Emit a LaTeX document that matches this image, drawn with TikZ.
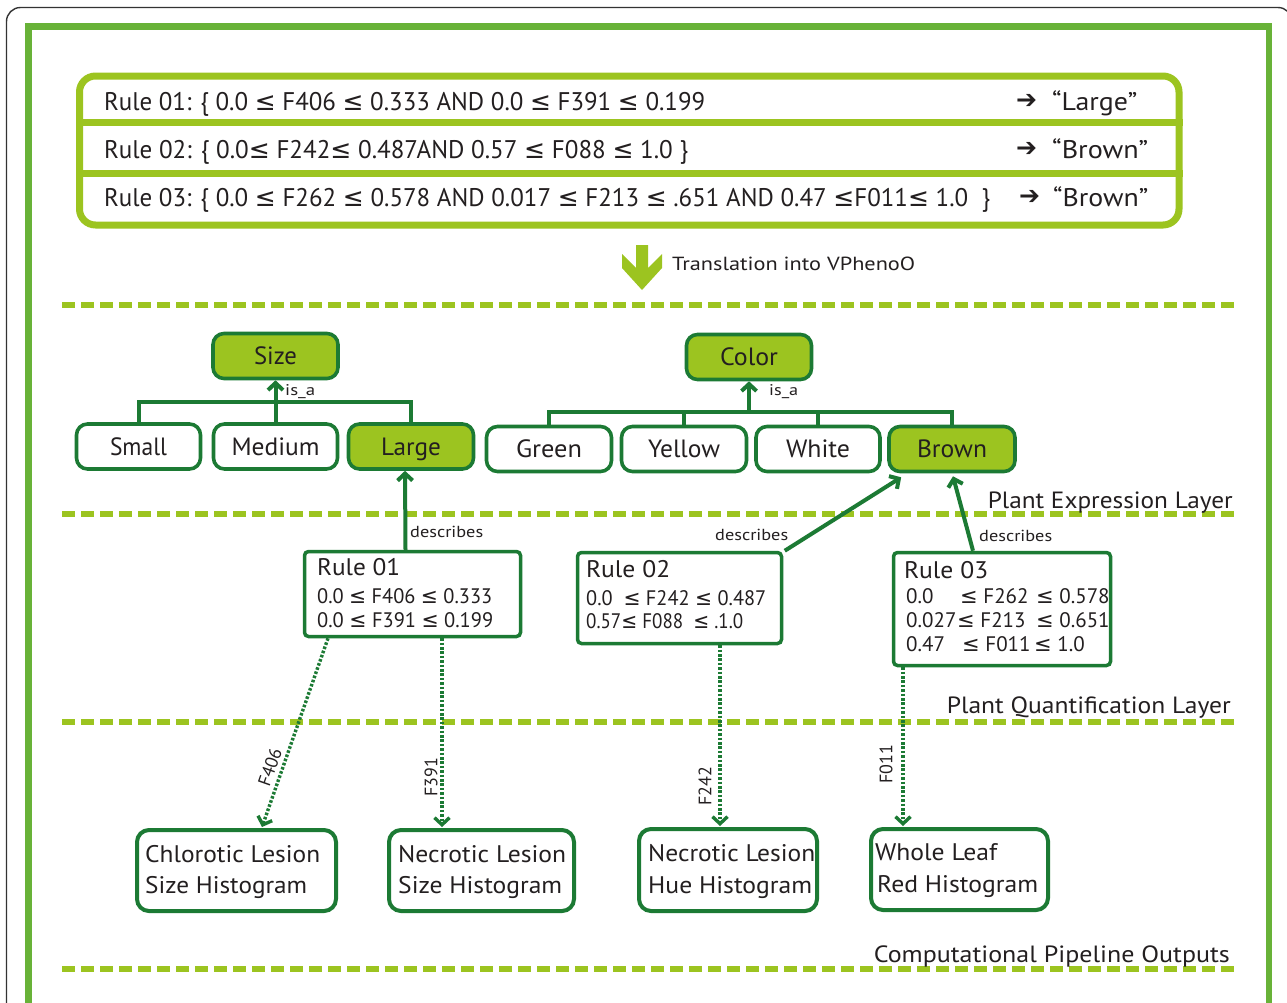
\documentclass[tikz,border=0pt]{standalone}
\usepackage{graphicx}
\usepackage{fontspec}
\setmainfont{PT Sans}
\newfontfamily\symf{DejaVu Sans}
\usetikzlibrary{arrows.meta}
\definecolor{frameg}{RGB}{104,178,56}
\definecolor{yg}{RGB}{156,196,32}
\definecolor{dg}{RGB}{28,122,52}
\definecolor{txt}{RGB}{35,31,32}
\newcommand{\tw}[2]{\resizebox{#1pt}{\height}{#2}}
\newcommand{\LE}{{\symf ≤}}
\newcommand{\fs}[1]{\fontsize{#1}{#1}\selectfont}
\tikzset{
 lay/.style={yg, line width=6.5pt, dash pattern=on 12.5pt off 6.5pt},
 cbox/.style={draw=dg, line width=3.6pt, rounded corners=11pt, inner sep=0pt, minimum height=45pt, text height=17.5pt, text depth=0pt, text=txt, font=\fs{25}},
 hbox/.style={cbox, fill=yg},
 wbox/.style={cbox, fill=white},
 tree/.style={dg, line width=4pt},
 tipa/.style={-{Straight Barb[length=7pt,width=15pt]}},
 desc/.style={dg, line width=4pt, -{Straight Barb[length=7pt,width=15pt]}},
 rbox/.style={draw=dg, line width=3.5pt, rounded corners=4pt, fill=white, inner sep=0pt},
 obox/.style={draw=dg, line width=4pt, rounded corners=12pt, fill=white, inner sep=0pt},
 dots/.style={dg, line width=3.4pt, dash pattern=on 2.6pt off 1.8pt, -{Straight Barb[length=7pt,width=15pt]}},
 tx/.style={anchor=base west, inner sep=0pt, text=txt},
 rowt/.style={tx, font=\fs{25.5}},
 small/.style={tx, font=\fs{15.5}},
 hdr/.style={tx, font=\fs{24}},
 ineq/.style={tx, font=\fs{21}},
 outt/.style={tx, font=\fs{24}},
 layt/.style={anchor=base east, inner sep=0pt, text=txt, font=\fs{23.5}},
 flab/.style={inner sep=0pt, text=txt, font=\fs{18}},
}
\begin{document}
\begin{tikzpicture}[x=1pt,y=-1pt]
\useasboundingbox (0,0) rectangle (1287,1002);
\clip (0,0) rectangle (1287,1002);
\fill[white] (0,0) rectangle (1287,1002);
% frames
\draw[line width=1.4pt, black!80, rounded corners=14pt] (6.5,1100) -- (6.5,7.5) -- (1292,7.5) -- (1292,1100);
\draw[frameg, line width=6.5pt] (28.5,1100) -- (28.5,26.5) -- (1269,26.5) -- (1269,1100);

% rules box
\node[draw=yg, line width=7pt, rounded corners=16pt, minimum width=1099.5pt, minimum height=149pt, inner sep=0pt] (rules) at (629.25,150.5) {};
\coordinate (s1) at (0,122);
\coordinate (s2) at (0,173);
\draw[yg, line width=7pt] (rules.west |- s1) -- (rules.east |- s1);
\draw[yg, line width=7pt] (rules.west |- s2) -- (rules.east |- s2);
\node[rowt] (t1) at (104,110) {\tw{601}{Rule 01: \{ 0.0 \LE\ F406 \LE\ 0.333 AND 0.0 \LE\ F391 \LE\ 0.199}};
\node[rowt] (t2) at (104,158) {\tw{584}{Rule 02: \{ 0.0\LE\ F242\LE\ 0.487AND 0.57 \LE\ F088 \LE\ 1.0 \}}};
\node[rowt] (t3) at (104,206) {\tw{886}{Rule 03: \{ 0.0 \LE\ F262 \LE\ 0.578 AND 0.017 \LE\ F213 \LE\ .651 AND 0.47 \LE F011\LE\ 1.0\ \ \}}};
\node[rowt] (a1) at (1016,108) {\tw{21}{\symf ➔}};
\node[rowt] (a2) at (1016,156) {\tw{21}{\symf ➔}};
\node[rowt] (a3) at (1019,204) {\tw{21}{\symf ➔}};
\node[rowt] (v1) at (1052,110) {\tw{85}{“Large”}};
\node[rowt] (v2) at (1052,158) {\tw{96}{“Brown”}};
\node[rowt] (v3) at (1053,206) {\tw{95}{“Brown”}};

% translation arrow
\fill[yg] (622,254) -- (622,268) -- (642,290) -- (662,268) -- (662,254) -- (648,268) -- (648,245) -- (636,245) -- (636,268) -- cycle;
\node[tx, font=\fs{19}] (trans) at (672,270) {\tw{243}{Translation into VPhenoO}};

% layer lines
\draw[lay] (62,305) -- (1235,305);
\draw[lay] (62,514) -- (1235,514);
\draw[lay] (62,722) -- (1235,722);
\draw[lay] (62,969) -- (1235,969);
\node[layt] (l1) at (1233,508) {\tw{245}{Plant Expression Layer}};
\node[layt] (l2) at (1231,713) {\tw{284}{Plant Quantification Layer}};
\node[layt] (l3) at (1230,962) {\tw{356}{Computational Pipeline Outputs}};

% size tree
\node[hbox, minimum width=125pt] (sz) at (275.5,356) {\tw{43}{Size}};
\node[wbox, minimum width=124pt] (sm) at (138.5,446.5) {\tw{57}{Small}};
\node[wbox, minimum width=124pt] (md) at (275.5,446.5) {\tw{88}{Medium}};
\node[hbox, minimum width=125pt] (lg) at (411,446.5) {\tw{60}{Large}};
\coordinate (sb) at (275.5,402);
\draw[tree] (sm.north) |- (sb) -| (lg.north);
\draw[tree, tipa] (md.north) -- (sz.south);
\node[small] (isa1) at (285,395) {\tw{30}{is\_a}};

% color tree
\node[hbox, minimum width=125pt] (co) at (749,357) {\tw{58}{Color}};
\node[wbox, minimum width=125pt] (gr) at (549,449) {\tw{66}{Green}};
\node[wbox, minimum width=125pt] (ye) at (684,449) {\tw{72}{Yellow}};
\node[wbox, minimum width=124pt] (wh) at (818,449) {\tw{64}{White}};
\node[hbox, minimum width=126pt] (br) at (952,449) {\tw{70}{Brown}};
\coordinate (cb) at (749,412);
\draw[tree] (gr.north) |- (cb) -| (br.north);
\draw[tree] (ye.north) -- (ye.north |- cb);
\draw[tree] (wh.north) -- (wh.north |- cb);
\draw[tree, tipa] (cb) -- (co.south);
\node[small] (isa2) at (769,395) {\tw{29}{is\_a}};

% rule boxes
\node[rbox, minimum width=216pt, minimum height=85pt] (q1) at (412.5,594) {};
\node[rbox, minimum width=204pt, minimum height=91pt] (q2) at (679.5,598) {};
\node[rbox, minimum width=217pt, minimum height=113pt] (q3) at (1002,609) {};
\node[hdr] (q1h) at (317,575) {\tw{83}{Rule 01}};
\node[ineq] (q1a) at (317,603) {\tw{175}{0.0 \LE\ F406 \LE\ 0.333}};
\node[ineq] (q1b) at (317,627) {\tw{176}{0.0 \LE\ F391 \LE\ 0.199}};
\node[hdr] (q2h) at (586,577) {\tw{84}{Rule 02}};
\node[ineq] (q2a) at (586,605) {\tw{180}{0.0\ \ \LE\ F242 \LE\ 0.487}};
\node[ineq] (q2b) at (586,628) {\tw{157}{0.57\LE\ F088\ \ \LE\ .1.0}};
\node[hdr] (q3h) at (904,578) {\tw{84}{Rule 03}};
\node[ineq] (q3a1) at (906,603) {0.0};
\node[ineq] (q3a2) at (960,603) {\LE\ F262};
\node[ineq] (q3a3) at (1036,603) {\LE\ 0.578};
\node[ineq] (q3b1) at (906,627) {0.027};
\node[ineq] (q3b2) at (957,627) {\LE\ F213};
\node[ineq] (q3b3) at (1036,627) {\LE\ 0.651};
\node[ineq] (q3c1) at (906,651) {0.47};
\node[ineq] (q3c2) at (962,651) {\LE\ F011};
\node[ineq] (q3c3) at (1034,651) {\LE\ 1.0};

% describes
\draw[desc] ([xshift=-7pt]q1.north) -- ([xshift=-6pt]lg.south);
\draw[desc] ([xshift=1.5pt]q2.north east) -- ([xshift=14pt,yshift=-4pt]br.south west);
\draw[desc] ([xshift=-29pt]q3.north) -- ([xshift=1pt,yshift=-3pt]br.south);
\node[small, font=\fs{16}] (d1) at (410,537) {\tw{73}{describes}};
\node[small, font=\fs{16}] (d2) at (715,540) {\tw{73}{describes}};
\node[small, font=\fs{16}] (d3) at (979,541) {\tw{73}{describes}};

% output boxes
\node[obox, minimum width=199pt, minimum height=81pt] (b1) at (236.5,870.5) {};
\node[obox, minimum width=185pt, minimum height=81pt] (b2) at (481.5,870.5) {};
\node[obox, minimum width=178pt, minimum height=82pt] (b3) at (728,870) {};
\node[obox, minimum width=177pt, minimum height=81pt] (b4) at (959.5,869.5) {};
\node[outt] (b1a) at (145,862) {\tw{175}{Chlorotic Lesion}};
\node[outt] (b1b) at (145,893) {\tw{162}{Size Histogram}};
\node[outt] (b2a) at (398,862) {\tw{168}{Necrotic Lesion}};
\node[outt] (b2b) at (398,893) {\tw{164}{Size Histogram}};
\node[outt] (b3a) at (648,861) {\tw{167}{Necrotic Lesion}};
\node[outt] (b3b) at (648,893) {\tw{164}{Hue Histogram}};
\node[outt] (b4a) at (875,860) {\tw{122}{Whole Leaf}};
\node[outt] (b4b) at (877,892) {\tw{161}{Red Histogram}};

% dotted feature arrows
\draw[dots] ([xshift=-84.5pt]q1.south) -- ([xshift=25.5pt,yshift=1pt]b1.north);
\draw[dots] ([xshift=29.5pt]q1.south) -- ([xshift=-39.5pt,yshift=1pt]b2.north);
\draw[dots] ([xshift=40.5pt]q2.south) -- ([xshift=-8pt,yshift=1pt]b3.north);
\draw[dots] ([xshift=-99pt]q3.south) -- ([xshift=-56.5pt,yshift=1pt]b4.north);
\node[flab, rotate=70.5] (f1) at (270,767) {F406};
\node[flab, rotate=90] (f2) at (431,777) {F391};
\node[flab, rotate=90] (f3) at (705,786) {F242};
\node[flab, rotate=90] (f4) at (886,764) {F011};
\end{tikzpicture}
\end{document}
